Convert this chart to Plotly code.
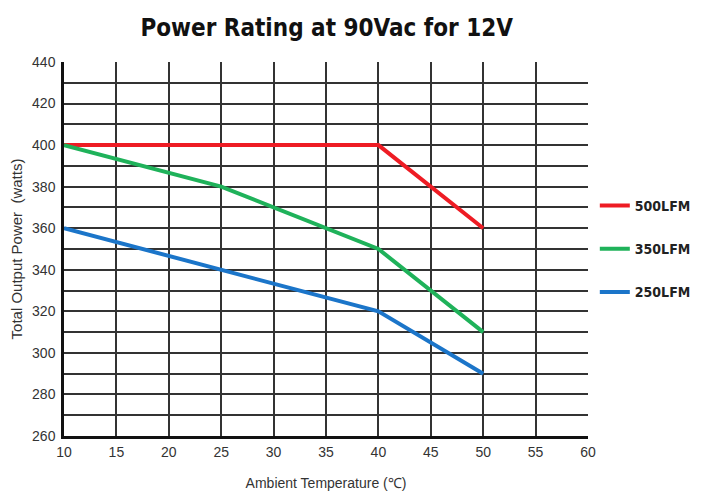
import plotly.graph_objects as go

temps_500 = [10, 40, 50]
power_500 = [400, 400, 360]
temps_350 = [10, 25, 40, 50]
power_350 = [400, 380, 350, 310]
temps_250 = [10, 25, 40, 50]
power_250 = [360, 340, 320, 290]

series_names = ["500LFM", "350LFM", "250LFM"]
series_colors = ["#ee1c24", "#1fb25a", "#1b75c9"]

x_ticks = [10, 15, 20, 25, 30, 35, 40, 45, 50, 55, 60]
x_grid = [15, 20, 25, 30, 35, 40, 45, 50, 55]
y_ticks = [260, 280, 300, 320, 340, 360, 380, 400, 420, 440]
y_grid = [270, 280, 290, 300, 310, 320, 330, 340, 350, 360, 370, 380, 390, 400, 410, 420, 430]

fig = go.Figure()
data = [(temps_500, power_500), (temps_350, power_350), (temps_250, power_250)]
for i, (xs, ys) in enumerate(data):
    fig.add_trace(go.Scatter(
        x=xs, y=ys, mode="lines", name="<b>" + series_names[i] + "</b>",
        line=dict(color=series_colors[i], width=4),
        legendgroup=series_names[i],
    ))

fig.update_layout(
    width=702, height=496,
    paper_bgcolor="white", plot_bgcolor="white",
    margin=dict(l=56, r=122, t=54, b=68),
    title=dict(
        text="<b>Power Rating at 90Vac for 12V</b>",
        x=0.454, xanchor="center", y=0.96, yanchor="middle",
        font=dict(family="Liberation Sans Narrow, DejaVu Sans Condensed, Arial", size=24, color="#111111"),
    ),
    showlegend=True,
    legend=dict(
        x=1.013, xanchor="left", y=0.658, yanchor="top",
        font=dict(family="Liberation Sans Narrow, DejaVu Sans Condensed, Arial", size=14, color="#222222"),
        tracegroupgap=22, bgcolor="rgba(0,0,0,0)", borderwidth=0,
    ),
    font=dict(family="Arial", size=14, color="#333333"),
)

fig.update_xaxes(
    range=[10, 60], tickmode="array", tickvals=x_ticks, automargin=False,
    showgrid=False, zeroline=False,
    showline=True, linecolor="#111111", linewidth=3,
    ticks="", ticklabelstandoff=1,
    tickfont=dict(family="Arial", size=14, color="#333333"),
    minor=dict(tickmode="array", tickvals=x_grid, showgrid=True, gridcolor="#333333", gridwidth=1.5, ticks=""),
    title=dict(text="Ambient Temperature (℃)", font=dict(family="Arial", size=14, color="#333333"), standoff=20),
)
fig.update_yaxes(
    range=[260, 440], tickmode="array", tickvals=y_ticks, automargin=False,
    showgrid=False, zeroline=False,
    showline=True, linecolor="#111111", linewidth=2.5,
    ticks="", ticklabelstandoff=3,
    tickfont=dict(family="Arial", size=14, color="#333333"),
    minor=dict(tickmode="array", tickvals=y_grid, showgrid=True, gridcolor="#333333", gridwidth=1.5, ticks=""),
    title=dict(text="Total Output Power  (watts)", font=dict(family="Arial", size=15, color="#333333"), standoff=10),
)

fig.write_html("out.html")
